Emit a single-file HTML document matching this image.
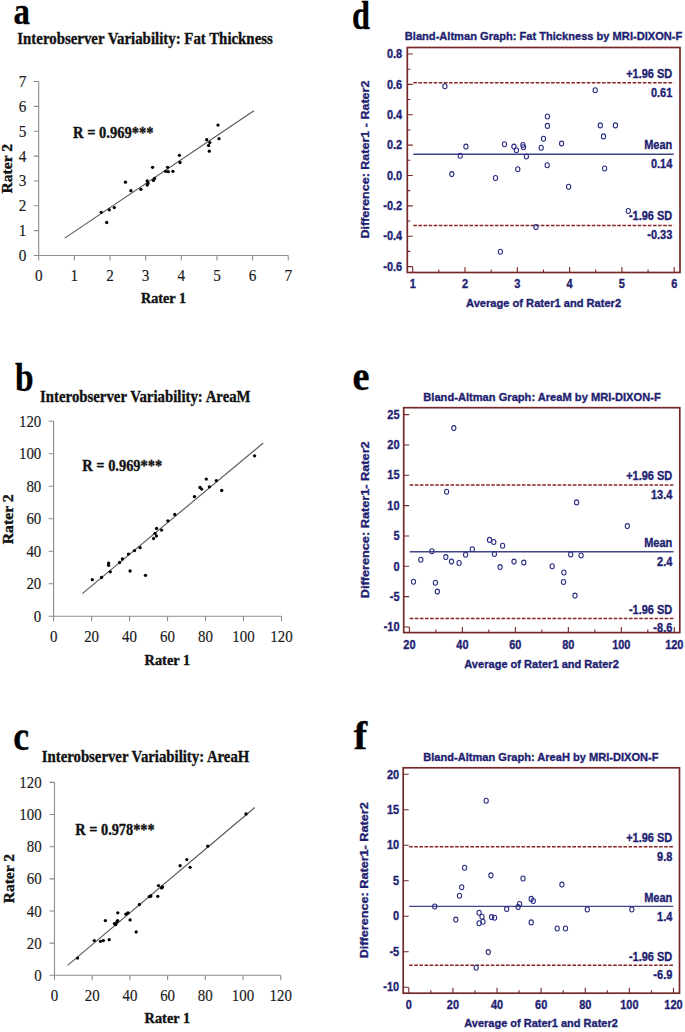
<!DOCTYPE html>
<html><head><meta charset="utf-8"><title>Figure</title>
<style>
html,body{margin:0;padding:0;background:#fff;}
body{width:685px;height:1032px;overflow:hidden;}
svg{display:block;}
</style></head>
<body>
<svg width="685" height="1032" viewBox="0 0 685 1032">
<rect width="685" height="1032" fill="#fff"/>
<path d="M38.70,81.55V255.50H288.25" fill="none" stroke="#8c8c8c" stroke-width="1.1"/>
<path d="M33.70,255.50H38.70M33.70,230.65H38.70M33.70,205.80H38.70M33.70,180.95H38.70M33.70,156.10H38.70M33.70,131.25H38.70M33.70,106.40H38.70M33.70,81.55H38.70M38.70,255.50V260.50M74.35,255.50V260.50M110.00,255.50V260.50M145.65,255.50V260.50M181.30,255.50V260.50M216.95,255.50V260.50M252.60,255.50V260.50M288.25,255.50V260.50" fill="none" stroke="#8c8c8c" stroke-width="1.1"/>
<g transform="translate(26.40 261.00) scale(0.93 1)">
<text x="0.00" y="0.00" font-size="16.4" font-family='"Liberation Serif", serif' font-weight="normal" text-anchor="end" fill="#1a1a1a" stroke="#1a1a1a" stroke-width="0.15" >0</text>
</g>
<g transform="translate(26.40 236.15) scale(0.93 1)">
<text x="0.00" y="0.00" font-size="16.4" font-family='"Liberation Serif", serif' font-weight="normal" text-anchor="end" fill="#1a1a1a" stroke="#1a1a1a" stroke-width="0.15" >1</text>
</g>
<g transform="translate(26.40 211.30) scale(0.93 1)">
<text x="0.00" y="0.00" font-size="16.4" font-family='"Liberation Serif", serif' font-weight="normal" text-anchor="end" fill="#1a1a1a" stroke="#1a1a1a" stroke-width="0.15" >2</text>
</g>
<g transform="translate(26.40 186.45) scale(0.93 1)">
<text x="0.00" y="0.00" font-size="16.4" font-family='"Liberation Serif", serif' font-weight="normal" text-anchor="end" fill="#1a1a1a" stroke="#1a1a1a" stroke-width="0.15" >3</text>
</g>
<g transform="translate(26.40 161.60) scale(0.93 1)">
<text x="0.00" y="0.00" font-size="16.4" font-family='"Liberation Serif", serif' font-weight="normal" text-anchor="end" fill="#1a1a1a" stroke="#1a1a1a" stroke-width="0.15" >4</text>
</g>
<g transform="translate(26.40 136.75) scale(0.93 1)">
<text x="0.00" y="0.00" font-size="16.4" font-family='"Liberation Serif", serif' font-weight="normal" text-anchor="end" fill="#1a1a1a" stroke="#1a1a1a" stroke-width="0.15" >5</text>
</g>
<g transform="translate(26.40 111.90) scale(0.93 1)">
<text x="0.00" y="0.00" font-size="16.4" font-family='"Liberation Serif", serif' font-weight="normal" text-anchor="end" fill="#1a1a1a" stroke="#1a1a1a" stroke-width="0.15" >6</text>
</g>
<g transform="translate(26.40 87.05) scale(0.93 1)">
<text x="0.00" y="0.00" font-size="16.4" font-family='"Liberation Serif", serif' font-weight="normal" text-anchor="end" fill="#1a1a1a" stroke="#1a1a1a" stroke-width="0.15" >7</text>
</g>
<g transform="translate(38.70 280.90) scale(0.93 1)">
<text x="0.00" y="0.00" font-size="16.4" font-family='"Liberation Serif", serif' font-weight="normal" text-anchor="middle" fill="#1a1a1a" stroke="#1a1a1a" stroke-width="0.15" >0</text>
</g>
<g transform="translate(74.35 280.90) scale(0.93 1)">
<text x="0.00" y="0.00" font-size="16.4" font-family='"Liberation Serif", serif' font-weight="normal" text-anchor="middle" fill="#1a1a1a" stroke="#1a1a1a" stroke-width="0.15" >1</text>
</g>
<g transform="translate(110.00 280.90) scale(0.93 1)">
<text x="0.00" y="0.00" font-size="16.4" font-family='"Liberation Serif", serif' font-weight="normal" text-anchor="middle" fill="#1a1a1a" stroke="#1a1a1a" stroke-width="0.15" >2</text>
</g>
<g transform="translate(145.65 280.90) scale(0.93 1)">
<text x="0.00" y="0.00" font-size="16.4" font-family='"Liberation Serif", serif' font-weight="normal" text-anchor="middle" fill="#1a1a1a" stroke="#1a1a1a" stroke-width="0.15" >3</text>
</g>
<g transform="translate(181.30 280.90) scale(0.93 1)">
<text x="0.00" y="0.00" font-size="16.4" font-family='"Liberation Serif", serif' font-weight="normal" text-anchor="middle" fill="#1a1a1a" stroke="#1a1a1a" stroke-width="0.15" >4</text>
</g>
<g transform="translate(216.95 280.90) scale(0.93 1)">
<text x="0.00" y="0.00" font-size="16.4" font-family='"Liberation Serif", serif' font-weight="normal" text-anchor="middle" fill="#1a1a1a" stroke="#1a1a1a" stroke-width="0.15" >5</text>
</g>
<g transform="translate(252.60 280.90) scale(0.93 1)">
<text x="0.00" y="0.00" font-size="16.4" font-family='"Liberation Serif", serif' font-weight="normal" text-anchor="middle" fill="#1a1a1a" stroke="#1a1a1a" stroke-width="0.15" >6</text>
</g>
<g transform="translate(288.25 280.90) scale(0.93 1)">
<text x="0.00" y="0.00" font-size="16.4" font-family='"Liberation Serif", serif' font-weight="normal" text-anchor="middle" fill="#1a1a1a" stroke="#1a1a1a" stroke-width="0.15" >7</text>
</g>
<line x1="64.7" y1="238.1" x2="253.9" y2="110.8" stroke="#555" stroke-width="1.1"/>
<circle cx="101.3" cy="212.3" r="1.65" fill="#000"/>
<circle cx="106.7" cy="222.5" r="1.65" fill="#000"/>
<circle cx="109.3" cy="209.8" r="1.65" fill="#000"/>
<circle cx="114.3" cy="207.6" r="1.65" fill="#000"/>
<circle cx="125.4" cy="182.2" r="1.65" fill="#000"/>
<circle cx="130.9" cy="190.7" r="1.65" fill="#000"/>
<circle cx="140.9" cy="189.3" r="1.65" fill="#000"/>
<circle cx="147.2" cy="180.9" r="1.65" fill="#000"/>
<circle cx="148.0" cy="183.4" r="1.65" fill="#000"/>
<circle cx="147.2" cy="185.1" r="1.65" fill="#000"/>
<circle cx="152.6" cy="167.3" r="1.65" fill="#000"/>
<circle cx="153.4" cy="180.4" r="1.65" fill="#000"/>
<circle cx="154.6" cy="178.4" r="1.65" fill="#000"/>
<circle cx="165.6" cy="171.3" r="1.65" fill="#000"/>
<circle cx="167.6" cy="167.3" r="1.65" fill="#000"/>
<circle cx="168.3" cy="171.7" r="1.65" fill="#000"/>
<circle cx="172.9" cy="171.3" r="1.65" fill="#000"/>
<circle cx="179.4" cy="155.3" r="1.65" fill="#000"/>
<circle cx="180.0" cy="162.5" r="1.65" fill="#000"/>
<circle cx="206.7" cy="139.7" r="1.65" fill="#000"/>
<circle cx="209.8" cy="142.6" r="1.65" fill="#000"/>
<circle cx="208.6" cy="145.5" r="1.65" fill="#000"/>
<circle cx="209.3" cy="151.2" r="1.65" fill="#000"/>
<circle cx="218.0" cy="125.1" r="1.65" fill="#000"/>
<circle cx="219.0" cy="138.7" r="1.65" fill="#000"/>
<text x="13.60" y="24.40" font-size="38" font-family='"Liberation Serif", serif' font-weight="bold" text-anchor="start" fill="#000" stroke="#000" stroke-width="0.35" textLength="16.40" lengthAdjust="spacingAndGlyphs" >a</text>
<text x="17.30" y="43.90" font-size="17.5" font-family='"Liberation Serif", serif' font-weight="bold" text-anchor="start" fill="#111" stroke="#111" stroke-width="0.35" textLength="255.50" lengthAdjust="spacingAndGlyphs" >Interobserver Variability: Fat Thickness</text>
<text x="73.10" y="138.40" font-size="16.5" font-family='"Liberation Serif", serif' font-weight="bold" text-anchor="start" fill="#111" stroke="#111" stroke-width="0.35" textLength="80.30" lengthAdjust="spacingAndGlyphs" >R = 0.969***</text>
<text x="141.00" y="303.00" font-size="14.5" font-family='"Liberation Serif", serif' font-weight="bold" text-anchor="start" fill="#111" stroke="#111" stroke-width="0.35" textLength="45.00" lengthAdjust="spacingAndGlyphs" >Rater 1</text>
<text x="12.20" y="193.50" font-size="14" font-family='"Liberation Serif", serif' font-weight="bold" text-anchor="start" fill="#111" stroke="#111" stroke-width="0.35" textLength="49.60" lengthAdjust="spacingAndGlyphs" transform="rotate(-90 12.20 193.50)" >Rater 2</text>
<path d="M53.60,421.18V616.30H281.48" fill="none" stroke="#8c8c8c" stroke-width="1.1"/>
<path d="M48.60,616.30H53.60M48.60,583.78H53.60M48.60,551.26H53.60M48.60,518.74H53.60M48.60,486.22H53.60M48.60,453.70H53.60M48.60,421.18H53.60M53.60,616.30V621.30M91.58,616.30V621.30M129.56,616.30V621.30M167.54,616.30V621.30M205.52,616.30V621.30M243.50,616.30V621.30M281.48,616.30V621.30" fill="none" stroke="#8c8c8c" stroke-width="1.1"/>
<g transform="translate(41.30 621.80) scale(0.91 1)">
<text x="0.00" y="0.00" font-size="16.4" font-family='"Liberation Serif", serif' font-weight="normal" text-anchor="end" fill="#1a1a1a" stroke="#1a1a1a" stroke-width="0.15" >0</text>
</g>
<g transform="translate(41.30 589.28) scale(0.91 1)">
<text x="0.00" y="0.00" font-size="16.4" font-family='"Liberation Serif", serif' font-weight="normal" text-anchor="end" fill="#1a1a1a" stroke="#1a1a1a" stroke-width="0.15" >20</text>
</g>
<g transform="translate(41.30 556.76) scale(0.91 1)">
<text x="0.00" y="0.00" font-size="16.4" font-family='"Liberation Serif", serif' font-weight="normal" text-anchor="end" fill="#1a1a1a" stroke="#1a1a1a" stroke-width="0.15" >40</text>
</g>
<g transform="translate(41.30 524.24) scale(0.91 1)">
<text x="0.00" y="0.00" font-size="16.4" font-family='"Liberation Serif", serif' font-weight="normal" text-anchor="end" fill="#1a1a1a" stroke="#1a1a1a" stroke-width="0.15" >60</text>
</g>
<g transform="translate(41.30 491.72) scale(0.91 1)">
<text x="0.00" y="0.00" font-size="16.4" font-family='"Liberation Serif", serif' font-weight="normal" text-anchor="end" fill="#1a1a1a" stroke="#1a1a1a" stroke-width="0.15" >80</text>
</g>
<g transform="translate(41.30 459.20) scale(0.91 1)">
<text x="0.00" y="0.00" font-size="16.4" font-family='"Liberation Serif", serif' font-weight="normal" text-anchor="end" fill="#1a1a1a" stroke="#1a1a1a" stroke-width="0.15" >100</text>
</g>
<g transform="translate(41.30 426.68) scale(0.91 1)">
<text x="0.00" y="0.00" font-size="16.4" font-family='"Liberation Serif", serif' font-weight="normal" text-anchor="end" fill="#1a1a1a" stroke="#1a1a1a" stroke-width="0.15" >120</text>
</g>
<g transform="translate(53.60 641.60) scale(0.91 1)">
<text x="0.00" y="0.00" font-size="16.4" font-family='"Liberation Serif", serif' font-weight="normal" text-anchor="middle" fill="#1a1a1a" stroke="#1a1a1a" stroke-width="0.15" >0</text>
</g>
<g transform="translate(91.58 641.60) scale(0.91 1)">
<text x="0.00" y="0.00" font-size="16.4" font-family='"Liberation Serif", serif' font-weight="normal" text-anchor="middle" fill="#1a1a1a" stroke="#1a1a1a" stroke-width="0.15" >20</text>
</g>
<g transform="translate(129.56 641.60) scale(0.91 1)">
<text x="0.00" y="0.00" font-size="16.4" font-family='"Liberation Serif", serif' font-weight="normal" text-anchor="middle" fill="#1a1a1a" stroke="#1a1a1a" stroke-width="0.15" >40</text>
</g>
<g transform="translate(167.54 641.60) scale(0.91 1)">
<text x="0.00" y="0.00" font-size="16.4" font-family='"Liberation Serif", serif' font-weight="normal" text-anchor="middle" fill="#1a1a1a" stroke="#1a1a1a" stroke-width="0.15" >60</text>
</g>
<g transform="translate(205.52 641.60) scale(0.91 1)">
<text x="0.00" y="0.00" font-size="16.4" font-family='"Liberation Serif", serif' font-weight="normal" text-anchor="middle" fill="#1a1a1a" stroke="#1a1a1a" stroke-width="0.15" >80</text>
</g>
<g transform="translate(243.50 641.60) scale(0.91 1)">
<text x="0.00" y="0.00" font-size="16.4" font-family='"Liberation Serif", serif' font-weight="normal" text-anchor="middle" fill="#1a1a1a" stroke="#1a1a1a" stroke-width="0.15" >100</text>
</g>
<g transform="translate(281.48 641.60) scale(0.91 1)">
<text x="0.00" y="0.00" font-size="16.4" font-family='"Liberation Serif", serif' font-weight="normal" text-anchor="middle" fill="#1a1a1a" stroke="#1a1a1a" stroke-width="0.15" >120</text>
</g>
<line x1="82.3" y1="593.7" x2="263.2" y2="443.0" stroke="#555" stroke-width="1.1"/>
<circle cx="92.3" cy="579.7" r="1.65" fill="#000"/>
<circle cx="101.5" cy="577.4" r="1.65" fill="#000"/>
<circle cx="108.6" cy="563.1" r="1.65" fill="#000"/>
<circle cx="108.6" cy="565.3" r="1.65" fill="#000"/>
<circle cx="110.3" cy="571.8" r="1.65" fill="#000"/>
<circle cx="119.6" cy="562.5" r="1.65" fill="#000"/>
<circle cx="122.4" cy="559.0" r="1.65" fill="#000"/>
<circle cx="128.4" cy="554.1" r="1.65" fill="#000"/>
<circle cx="130.1" cy="571.0" r="1.65" fill="#000"/>
<circle cx="134.5" cy="550.6" r="1.65" fill="#000"/>
<circle cx="140.1" cy="547.7" r="1.65" fill="#000"/>
<circle cx="145.5" cy="575.3" r="1.65" fill="#000"/>
<circle cx="153.6" cy="538.5" r="1.65" fill="#000"/>
<circle cx="155.0" cy="533.3" r="1.65" fill="#000"/>
<circle cx="156.4" cy="535.9" r="1.65" fill="#000"/>
<circle cx="156.6" cy="528.4" r="1.65" fill="#000"/>
<circle cx="161.6" cy="530.1" r="1.65" fill="#000"/>
<circle cx="167.9" cy="520.8" r="1.65" fill="#000"/>
<circle cx="174.8" cy="514.5" r="1.65" fill="#000"/>
<circle cx="194.5" cy="496.6" r="1.65" fill="#000"/>
<circle cx="200.0" cy="487.5" r="1.65" fill="#000"/>
<circle cx="201.7" cy="489.1" r="1.65" fill="#000"/>
<circle cx="206.3" cy="479.1" r="1.65" fill="#000"/>
<circle cx="209.4" cy="486.8" r="1.65" fill="#000"/>
<circle cx="216.3" cy="480.6" r="1.65" fill="#000"/>
<circle cx="221.7" cy="490.5" r="1.65" fill="#000"/>
<circle cx="254.6" cy="455.8" r="1.65" fill="#000"/>
<text x="15.00" y="391.00" font-size="40" font-family='"Liberation Serif", serif' font-weight="bold" text-anchor="start" fill="#000" stroke="#000" stroke-width="0.35" textLength="18.60" lengthAdjust="spacingAndGlyphs" >b</text>
<text x="40.10" y="401.70" font-size="17.5" font-family='"Liberation Serif", serif' font-weight="bold" text-anchor="start" fill="#111" stroke="#111" stroke-width="0.35" textLength="210.50" lengthAdjust="spacingAndGlyphs" >Interobserver Variability: AreaM</text>
<text x="82.30" y="470.50" font-size="16.5" font-family='"Liberation Serif", serif' font-weight="bold" text-anchor="start" fill="#111" stroke="#111" stroke-width="0.35" textLength="79.90" lengthAdjust="spacingAndGlyphs" >R = 0.969***</text>
<text x="144.60" y="665.00" font-size="14.5" font-family='"Liberation Serif", serif' font-weight="bold" text-anchor="start" fill="#111" stroke="#111" stroke-width="0.35" textLength="45.50" lengthAdjust="spacingAndGlyphs" >Rater 1</text>
<text x="12.80" y="544.30" font-size="14" font-family='"Liberation Serif", serif' font-weight="bold" text-anchor="start" fill="#111" stroke="#111" stroke-width="0.35" textLength="50.00" lengthAdjust="spacingAndGlyphs" transform="rotate(-90 12.80 544.30)" >Rater 2</text>
<path d="M54.50,782.40V975.30H280.70" fill="none" stroke="#8c8c8c" stroke-width="1.1"/>
<path d="M49.50,975.30H54.50M49.50,943.15H54.50M49.50,911.00H54.50M49.50,878.85H54.50M49.50,846.70H54.50M49.50,814.55H54.50M49.50,782.40H54.50M54.50,975.30V980.30M92.20,975.30V980.30M129.90,975.30V980.30M167.60,975.30V980.30M205.30,975.30V980.30M243.00,975.30V980.30M280.70,975.30V980.30" fill="none" stroke="#8c8c8c" stroke-width="1.1"/>
<g transform="translate(41.70 980.80) scale(0.91 1)">
<text x="0.00" y="0.00" font-size="16.4" font-family='"Liberation Serif", serif' font-weight="normal" text-anchor="end" fill="#1a1a1a" stroke="#1a1a1a" stroke-width="0.15" >0</text>
</g>
<g transform="translate(41.70 948.65) scale(0.91 1)">
<text x="0.00" y="0.00" font-size="16.4" font-family='"Liberation Serif", serif' font-weight="normal" text-anchor="end" fill="#1a1a1a" stroke="#1a1a1a" stroke-width="0.15" >20</text>
</g>
<g transform="translate(41.70 916.50) scale(0.91 1)">
<text x="0.00" y="0.00" font-size="16.4" font-family='"Liberation Serif", serif' font-weight="normal" text-anchor="end" fill="#1a1a1a" stroke="#1a1a1a" stroke-width="0.15" >40</text>
</g>
<g transform="translate(41.70 884.35) scale(0.91 1)">
<text x="0.00" y="0.00" font-size="16.4" font-family='"Liberation Serif", serif' font-weight="normal" text-anchor="end" fill="#1a1a1a" stroke="#1a1a1a" stroke-width="0.15" >60</text>
</g>
<g transform="translate(41.70 852.20) scale(0.91 1)">
<text x="0.00" y="0.00" font-size="16.4" font-family='"Liberation Serif", serif' font-weight="normal" text-anchor="end" fill="#1a1a1a" stroke="#1a1a1a" stroke-width="0.15" >80</text>
</g>
<g transform="translate(41.70 820.05) scale(0.91 1)">
<text x="0.00" y="0.00" font-size="16.4" font-family='"Liberation Serif", serif' font-weight="normal" text-anchor="end" fill="#1a1a1a" stroke="#1a1a1a" stroke-width="0.15" >100</text>
</g>
<g transform="translate(41.70 787.90) scale(0.91 1)">
<text x="0.00" y="0.00" font-size="16.4" font-family='"Liberation Serif", serif' font-weight="normal" text-anchor="end" fill="#1a1a1a" stroke="#1a1a1a" stroke-width="0.15" >120</text>
</g>
<g transform="translate(54.50 1000.90) scale(0.91 1)">
<text x="0.00" y="0.00" font-size="16.4" font-family='"Liberation Serif", serif' font-weight="normal" text-anchor="middle" fill="#1a1a1a" stroke="#1a1a1a" stroke-width="0.15" >0</text>
</g>
<g transform="translate(92.20 1000.90) scale(0.91 1)">
<text x="0.00" y="0.00" font-size="16.4" font-family='"Liberation Serif", serif' font-weight="normal" text-anchor="middle" fill="#1a1a1a" stroke="#1a1a1a" stroke-width="0.15" >20</text>
</g>
<g transform="translate(129.90 1000.90) scale(0.91 1)">
<text x="0.00" y="0.00" font-size="16.4" font-family='"Liberation Serif", serif' font-weight="normal" text-anchor="middle" fill="#1a1a1a" stroke="#1a1a1a" stroke-width="0.15" >40</text>
</g>
<g transform="translate(167.60 1000.90) scale(0.91 1)">
<text x="0.00" y="0.00" font-size="16.4" font-family='"Liberation Serif", serif' font-weight="normal" text-anchor="middle" fill="#1a1a1a" stroke="#1a1a1a" stroke-width="0.15" >60</text>
</g>
<g transform="translate(205.30 1000.90) scale(0.91 1)">
<text x="0.00" y="0.00" font-size="16.4" font-family='"Liberation Serif", serif' font-weight="normal" text-anchor="middle" fill="#1a1a1a" stroke="#1a1a1a" stroke-width="0.15" >80</text>
</g>
<g transform="translate(243.00 1000.90) scale(0.91 1)">
<text x="0.00" y="0.00" font-size="16.4" font-family='"Liberation Serif", serif' font-weight="normal" text-anchor="middle" fill="#1a1a1a" stroke="#1a1a1a" stroke-width="0.15" >100</text>
</g>
<g transform="translate(280.70 1000.90) scale(0.91 1)">
<text x="0.00" y="0.00" font-size="16.4" font-family='"Liberation Serif", serif' font-weight="normal" text-anchor="middle" fill="#1a1a1a" stroke="#1a1a1a" stroke-width="0.15" >120</text>
</g>
<line x1="67.6" y1="965.4" x2="254.8" y2="807.5" stroke="#555" stroke-width="1.1"/>
<circle cx="77.5" cy="958.1" r="1.65" fill="#000"/>
<circle cx="94.3" cy="940.6" r="1.65" fill="#000"/>
<circle cx="100.5" cy="941.3" r="1.65" fill="#000"/>
<circle cx="103.4" cy="940.6" r="1.65" fill="#000"/>
<circle cx="109.2" cy="939.7" r="1.65" fill="#000"/>
<circle cx="105.4" cy="920.6" r="1.65" fill="#000"/>
<circle cx="114.5" cy="923.6" r="1.65" fill="#000"/>
<circle cx="115.7" cy="924.5" r="1.65" fill="#000"/>
<circle cx="116.9" cy="922.0" r="1.65" fill="#000"/>
<circle cx="117.6" cy="920.6" r="1.65" fill="#000"/>
<circle cx="117.8" cy="912.8" r="1.65" fill="#000"/>
<circle cx="125.9" cy="914.2" r="1.65" fill="#000"/>
<circle cx="128.0" cy="912.9" r="1.65" fill="#000"/>
<circle cx="130.1" cy="919.9" r="1.65" fill="#000"/>
<circle cx="136.2" cy="931.9" r="1.65" fill="#000"/>
<circle cx="139.4" cy="904.5" r="1.65" fill="#000"/>
<circle cx="149.3" cy="896.6" r="1.65" fill="#000"/>
<circle cx="150.4" cy="896.1" r="1.65" fill="#000"/>
<circle cx="157.8" cy="896.3" r="1.65" fill="#000"/>
<circle cx="158.5" cy="885.6" r="1.65" fill="#000"/>
<circle cx="161.6" cy="887.9" r="1.65" fill="#000"/>
<circle cx="162.5" cy="887.0" r="1.65" fill="#000"/>
<circle cx="150.9" cy="896.0" r="1.65" fill="#000"/>
<circle cx="246.0" cy="814.0" r="1.65" fill="#000"/>
<circle cx="207.8" cy="846.2" r="1.65" fill="#000"/>
<circle cx="186.8" cy="859.6" r="1.65" fill="#000"/>
<circle cx="180.1" cy="865.7" r="1.65" fill="#000"/>
<circle cx="190.1" cy="867.3" r="1.65" fill="#000"/>
<text x="13.20" y="750.00" font-size="40" font-family='"Liberation Serif", serif' font-weight="bold" text-anchor="start" fill="#000" stroke="#000" stroke-width="0.35" textLength="15.80" lengthAdjust="spacingAndGlyphs" >c</text>
<text x="41.80" y="761.90" font-size="17.5" font-family='"Liberation Serif", serif' font-weight="bold" text-anchor="start" fill="#111" stroke="#111" stroke-width="0.35" textLength="207.50" lengthAdjust="spacingAndGlyphs" >Interobserver Variability: AreaH</text>
<text x="75.30" y="834.60" font-size="16.5" font-family='"Liberation Serif", serif' font-weight="bold" text-anchor="start" fill="#111" stroke="#111" stroke-width="0.35" textLength="79.40" lengthAdjust="spacingAndGlyphs" >R = 0.978***</text>
<text x="144.60" y="1023.00" font-size="14.5" font-family='"Liberation Serif", serif' font-weight="bold" text-anchor="start" fill="#111" stroke="#111" stroke-width="0.35" textLength="45.50" lengthAdjust="spacingAndGlyphs" >Rater 1</text>
<text x="13.80" y="903.30" font-size="14" font-family='"Liberation Serif", serif' font-weight="bold" text-anchor="start" fill="#111" stroke="#111" stroke-width="0.35" textLength="49.30" lengthAdjust="spacingAndGlyphs" transform="rotate(-90 13.80 903.30)" >Rater 2</text>
<path d="M407.30,54.00H412.80M407.30,69.19H410.30M407.30,84.37H412.80M407.30,99.56H410.30M407.30,114.74H412.80M407.30,129.93H410.30M407.30,145.11H412.80M407.30,160.30H410.30M407.30,175.49H412.80M407.30,190.67H410.30M407.30,205.86H412.80M407.30,221.04H410.30M407.30,236.23H412.80M407.30,251.41H410.30M407.30,266.60H412.80M412.70,272.50V267.00M438.85,272.50V269.50M465.00,272.50V267.00M491.15,272.50V269.50M517.30,272.50V267.00M543.45,272.50V269.50M569.60,272.50V267.00M595.75,272.50V269.50M621.90,272.50V267.00M648.05,272.50V269.50M674.20,272.50V267.00" fill="none" stroke="#742828" stroke-width="1.1"/>
<rect x="407.30" y="47.50" width="272.70" height="225.00" fill="none" stroke="#742828" stroke-width="1.7"/>
<line x1="413.30" y1="82.85" x2="673.70" y2="82.85" stroke="#8a2323" stroke-width="1.5" stroke-dasharray="3.6 1.5"/>
<line x1="413.30" y1="225.60" x2="673.70" y2="225.60" stroke="#8a2323" stroke-width="1.5" stroke-dasharray="3.6 1.5"/>
<line x1="413.30" y1="154.23" x2="673.70" y2="154.23" stroke="#3f458b" stroke-width="1.35"/>
<ellipse cx="444.9" cy="86.3" rx="2.1" ry="2.5" fill="none" stroke="#282d82" stroke-width="1.1"/>
<ellipse cx="451.8" cy="174.1" rx="2.1" ry="2.5" fill="none" stroke="#282d82" stroke-width="1.1"/>
<ellipse cx="460.2" cy="155.7" rx="2.1" ry="2.5" fill="none" stroke="#282d82" stroke-width="1.1"/>
<ellipse cx="465.9" cy="146.6" rx="2.1" ry="2.5" fill="none" stroke="#282d82" stroke-width="1.1"/>
<ellipse cx="495.5" cy="178.0" rx="2.1" ry="2.5" fill="none" stroke="#282d82" stroke-width="1.1"/>
<ellipse cx="500.4" cy="251.8" rx="2.1" ry="2.5" fill="none" stroke="#282d82" stroke-width="1.1"/>
<ellipse cx="504.5" cy="144.2" rx="2.1" ry="2.5" fill="none" stroke="#282d82" stroke-width="1.1"/>
<ellipse cx="513.9" cy="146.6" rx="2.1" ry="2.5" fill="none" stroke="#282d82" stroke-width="1.1"/>
<ellipse cx="516.4" cy="150.3" rx="2.1" ry="2.5" fill="none" stroke="#282d82" stroke-width="1.1"/>
<ellipse cx="517.8" cy="169.2" rx="2.1" ry="2.5" fill="none" stroke="#282d82" stroke-width="1.1"/>
<ellipse cx="522.9" cy="145.0" rx="2.1" ry="2.5" fill="none" stroke="#282d82" stroke-width="1.1"/>
<ellipse cx="523.5" cy="147.3" rx="2.1" ry="2.5" fill="none" stroke="#282d82" stroke-width="1.1"/>
<ellipse cx="526.4" cy="156.5" rx="2.1" ry="2.5" fill="none" stroke="#282d82" stroke-width="1.1"/>
<ellipse cx="536.0" cy="227.1" rx="2.1" ry="2.5" fill="none" stroke="#282d82" stroke-width="1.1"/>
<ellipse cx="541.2" cy="147.7" rx="2.1" ry="2.5" fill="none" stroke="#282d82" stroke-width="1.1"/>
<ellipse cx="543.5" cy="138.7" rx="2.1" ry="2.5" fill="none" stroke="#282d82" stroke-width="1.1"/>
<ellipse cx="547.4" cy="116.5" rx="2.1" ry="2.5" fill="none" stroke="#282d82" stroke-width="1.1"/>
<ellipse cx="547.4" cy="125.9" rx="2.1" ry="2.5" fill="none" stroke="#282d82" stroke-width="1.1"/>
<ellipse cx="547.2" cy="165.2" rx="2.1" ry="2.5" fill="none" stroke="#282d82" stroke-width="1.1"/>
<ellipse cx="561.6" cy="143.6" rx="2.1" ry="2.5" fill="none" stroke="#282d82" stroke-width="1.1"/>
<ellipse cx="568.6" cy="186.7" rx="2.1" ry="2.5" fill="none" stroke="#282d82" stroke-width="1.1"/>
<ellipse cx="595.2" cy="90.2" rx="2.1" ry="2.5" fill="none" stroke="#282d82" stroke-width="1.1"/>
<ellipse cx="600.3" cy="125.4" rx="2.1" ry="2.5" fill="none" stroke="#282d82" stroke-width="1.1"/>
<ellipse cx="603.5" cy="136.4" rx="2.1" ry="2.5" fill="none" stroke="#282d82" stroke-width="1.1"/>
<ellipse cx="604.6" cy="168.5" rx="2.1" ry="2.5" fill="none" stroke="#282d82" stroke-width="1.1"/>
<ellipse cx="615.4" cy="125.4" rx="2.1" ry="2.5" fill="none" stroke="#282d82" stroke-width="1.1"/>
<ellipse cx="628.3" cy="211.0" rx="2.1" ry="2.5" fill="none" stroke="#282d82" stroke-width="1.1"/>
<g transform="translate(402.20 58.20) scale(0.88 1)">
<text x="0.00" y="0.00" font-size="12.5" font-family='"Liberation Sans", sans-serif' font-weight="bold" text-anchor="end" fill="#1f1f72" stroke="#1f1f72" stroke-width="0.35" >0.8</text>
</g>
<g transform="translate(402.20 88.57) scale(0.88 1)">
<text x="0.00" y="0.00" font-size="12.5" font-family='"Liberation Sans", sans-serif' font-weight="bold" text-anchor="end" fill="#1f1f72" stroke="#1f1f72" stroke-width="0.35" >0.6</text>
</g>
<g transform="translate(402.20 118.94) scale(0.88 1)">
<text x="0.00" y="0.00" font-size="12.5" font-family='"Liberation Sans", sans-serif' font-weight="bold" text-anchor="end" fill="#1f1f72" stroke="#1f1f72" stroke-width="0.35" >0.4</text>
</g>
<g transform="translate(402.20 149.31) scale(0.88 1)">
<text x="0.00" y="0.00" font-size="12.5" font-family='"Liberation Sans", sans-serif' font-weight="bold" text-anchor="end" fill="#1f1f72" stroke="#1f1f72" stroke-width="0.35" >0.2</text>
</g>
<g transform="translate(402.20 179.69) scale(0.88 1)">
<text x="0.00" y="0.00" font-size="12.5" font-family='"Liberation Sans", sans-serif' font-weight="bold" text-anchor="end" fill="#1f1f72" stroke="#1f1f72" stroke-width="0.35" >0.0</text>
</g>
<g transform="translate(402.20 210.06) scale(0.88 1)">
<text x="0.00" y="0.00" font-size="12.5" font-family='"Liberation Sans", sans-serif' font-weight="bold" text-anchor="end" fill="#1f1f72" stroke="#1f1f72" stroke-width="0.35" >-0.2</text>
</g>
<g transform="translate(402.20 240.43) scale(0.88 1)">
<text x="0.00" y="0.00" font-size="12.5" font-family='"Liberation Sans", sans-serif' font-weight="bold" text-anchor="end" fill="#1f1f72" stroke="#1f1f72" stroke-width="0.35" >-0.4</text>
</g>
<g transform="translate(402.20 270.80) scale(0.88 1)">
<text x="0.00" y="0.00" font-size="12.5" font-family='"Liberation Sans", sans-serif' font-weight="bold" text-anchor="end" fill="#1f1f72" stroke="#1f1f72" stroke-width="0.35" >-0.6</text>
</g>
<g transform="translate(412.70 288.20) scale(0.9 1)">
<text x="0.00" y="0.00" font-size="12.2" font-family='"Liberation Sans", sans-serif' font-weight="bold" text-anchor="middle" fill="#1f1f72" stroke="#1f1f72" stroke-width="0.35" >1</text>
</g>
<g transform="translate(465.00 288.20) scale(0.9 1)">
<text x="0.00" y="0.00" font-size="12.2" font-family='"Liberation Sans", sans-serif' font-weight="bold" text-anchor="middle" fill="#1f1f72" stroke="#1f1f72" stroke-width="0.35" >2</text>
</g>
<g transform="translate(517.30 288.20) scale(0.9 1)">
<text x="0.00" y="0.00" font-size="12.2" font-family='"Liberation Sans", sans-serif' font-weight="bold" text-anchor="middle" fill="#1f1f72" stroke="#1f1f72" stroke-width="0.35" >3</text>
</g>
<g transform="translate(569.60 288.20) scale(0.9 1)">
<text x="0.00" y="0.00" font-size="12.2" font-family='"Liberation Sans", sans-serif' font-weight="bold" text-anchor="middle" fill="#1f1f72" stroke="#1f1f72" stroke-width="0.35" >4</text>
</g>
<g transform="translate(621.90 288.20) scale(0.9 1)">
<text x="0.00" y="0.00" font-size="12.2" font-family='"Liberation Sans", sans-serif' font-weight="bold" text-anchor="middle" fill="#1f1f72" stroke="#1f1f72" stroke-width="0.35" >5</text>
</g>
<g transform="translate(674.20 288.20) scale(0.9 1)">
<text x="0.00" y="0.00" font-size="12.2" font-family='"Liberation Sans", sans-serif' font-weight="bold" text-anchor="middle" fill="#1f1f72" stroke="#1f1f72" stroke-width="0.35" >6</text>
</g>
<g transform="translate(672.30 77.70) scale(0.88 1)">
<text x="0.00" y="0.00" font-size="12.5" font-family='"Liberation Sans", sans-serif' font-weight="bold" text-anchor="end" fill="#1f1f72" stroke="#1f1f72" stroke-width="0.35" >+1.96 SD</text>
</g>
<g transform="translate(672.30 96.90) scale(0.88 1)">
<text x="0.00" y="0.00" font-size="12.5" font-family='"Liberation Sans", sans-serif' font-weight="bold" text-anchor="end" fill="#1f1f72" stroke="#1f1f72" stroke-width="0.35" >0.61</text>
</g>
<g transform="translate(672.30 149.10) scale(0.88 1)">
<text x="0.00" y="0.00" font-size="12.5" font-family='"Liberation Sans", sans-serif' font-weight="bold" text-anchor="end" fill="#1f1f72" stroke="#1f1f72" stroke-width="0.35" >Mean</text>
</g>
<g transform="translate(672.30 168.30) scale(0.88 1)">
<text x="0.00" y="0.00" font-size="12.5" font-family='"Liberation Sans", sans-serif' font-weight="bold" text-anchor="end" fill="#1f1f72" stroke="#1f1f72" stroke-width="0.35" >0.14</text>
</g>
<g transform="translate(672.30 219.90) scale(0.88 1)">
<text x="0.00" y="0.00" font-size="12.5" font-family='"Liberation Sans", sans-serif' font-weight="bold" text-anchor="end" fill="#1f1f72" stroke="#1f1f72" stroke-width="0.35" >-1.96 SD</text>
</g>
<g transform="translate(672.30 238.90) scale(0.88 1)">
<text x="0.00" y="0.00" font-size="12.5" font-family='"Liberation Sans", sans-serif' font-weight="bold" text-anchor="end" fill="#1f1f72" stroke="#1f1f72" stroke-width="0.35" >-0.33</text>
</g>
<text x="404.80" y="40.10" font-size="11.5" font-family='"Liberation Sans", sans-serif' font-weight="bold" text-anchor="start" fill="#1f1f72" stroke="#1f1f72" stroke-width="0.35" textLength="277.50" lengthAdjust="spacingAndGlyphs" >Bland-Altman Graph: Fat Thickness by MRI-DIXON-F</text>
<text x="466.10" y="307.00" font-size="11" font-family='"Liberation Sans", sans-serif' font-weight="bold" text-anchor="start" fill="#1f1f72" stroke="#1f1f72" stroke-width="0.35" textLength="155.00" lengthAdjust="spacingAndGlyphs" >Average of Rater1 and Rater2</text>
<text x="369.20" y="238.60" font-size="11" font-family='"Liberation Sans", sans-serif' font-weight="bold" text-anchor="start" fill="#1f1f72" stroke="#1f1f72" stroke-width="0.35" textLength="158.00" lengthAdjust="spacingAndGlyphs" transform="rotate(-90 369.20 238.60)" >Difference: Rater1 - Rater2</text>
<text x="352.00" y="28.80" font-size="40" font-family='"Liberation Serif", serif' font-weight="bold" text-anchor="start" fill="#000" stroke="#000" stroke-width="0.35" textLength="18.00" lengthAdjust="spacingAndGlyphs" >d</text>
<path d="M403.70,414.60H409.20M403.70,444.94H409.20M403.70,475.29H409.20M403.70,505.63H409.20M403.70,535.97H409.20M403.70,566.31H409.20M403.70,596.66H409.20M403.70,627.00H409.20M409.40,632.60V627.10M435.89,632.60V629.60M462.38,632.60V627.10M488.87,632.60V629.60M515.36,632.60V627.10M541.85,632.60V629.60M568.34,632.60V627.10M594.83,632.60V629.60M621.32,632.60V627.10M647.81,632.60V629.60M674.30,632.60V627.10" fill="none" stroke="#742828" stroke-width="1.1"/>
<rect x="403.70" y="407.70" width="276.10" height="224.90" fill="none" stroke="#742828" stroke-width="1.7"/>
<line x1="409.70" y1="485.00" x2="673.50" y2="485.00" stroke="#8a2323" stroke-width="1.5" stroke-dasharray="3.6 1.5"/>
<line x1="409.70" y1="618.50" x2="673.50" y2="618.50" stroke="#8a2323" stroke-width="1.5" stroke-dasharray="3.6 1.5"/>
<line x1="409.70" y1="551.75" x2="673.50" y2="551.75" stroke="#3f458b" stroke-width="1.35"/>
<ellipse cx="413.5" cy="581.8" rx="2.1" ry="2.5" fill="none" stroke="#282d82" stroke-width="1.1"/>
<ellipse cx="420.8" cy="559.7" rx="2.1" ry="2.5" fill="none" stroke="#282d82" stroke-width="1.1"/>
<ellipse cx="431.9" cy="551.2" rx="2.1" ry="2.5" fill="none" stroke="#282d82" stroke-width="1.1"/>
<ellipse cx="435.4" cy="582.8" rx="2.1" ry="2.5" fill="none" stroke="#282d82" stroke-width="1.1"/>
<ellipse cx="437.4" cy="591.6" rx="2.1" ry="2.5" fill="none" stroke="#282d82" stroke-width="1.1"/>
<ellipse cx="445.8" cy="557.1" rx="2.1" ry="2.5" fill="none" stroke="#282d82" stroke-width="1.1"/>
<ellipse cx="446.6" cy="491.7" rx="2.1" ry="2.5" fill="none" stroke="#282d82" stroke-width="1.1"/>
<ellipse cx="451.5" cy="561.6" rx="2.1" ry="2.5" fill="none" stroke="#282d82" stroke-width="1.1"/>
<ellipse cx="453.8" cy="428.1" rx="2.1" ry="2.5" fill="none" stroke="#282d82" stroke-width="1.1"/>
<ellipse cx="459.1" cy="563.0" rx="2.1" ry="2.5" fill="none" stroke="#282d82" stroke-width="1.1"/>
<ellipse cx="465.6" cy="554.8" rx="2.1" ry="2.5" fill="none" stroke="#282d82" stroke-width="1.1"/>
<ellipse cx="472.3" cy="549.3" rx="2.1" ry="2.5" fill="none" stroke="#282d82" stroke-width="1.1"/>
<ellipse cx="489.5" cy="539.9" rx="2.1" ry="2.5" fill="none" stroke="#282d82" stroke-width="1.1"/>
<ellipse cx="493.8" cy="542.0" rx="2.1" ry="2.5" fill="none" stroke="#282d82" stroke-width="1.1"/>
<ellipse cx="494.4" cy="554.0" rx="2.1" ry="2.5" fill="none" stroke="#282d82" stroke-width="1.1"/>
<ellipse cx="500.1" cy="567.1" rx="2.1" ry="2.5" fill="none" stroke="#282d82" stroke-width="1.1"/>
<ellipse cx="502.6" cy="545.8" rx="2.1" ry="2.5" fill="none" stroke="#282d82" stroke-width="1.1"/>
<ellipse cx="514.0" cy="561.6" rx="2.1" ry="2.5" fill="none" stroke="#282d82" stroke-width="1.1"/>
<ellipse cx="523.8" cy="562.6" rx="2.1" ry="2.5" fill="none" stroke="#282d82" stroke-width="1.1"/>
<ellipse cx="552.2" cy="566.2" rx="2.1" ry="2.5" fill="none" stroke="#282d82" stroke-width="1.1"/>
<ellipse cx="563.5" cy="582.0" rx="2.1" ry="2.5" fill="none" stroke="#282d82" stroke-width="1.1"/>
<ellipse cx="563.9" cy="572.5" rx="2.1" ry="2.5" fill="none" stroke="#282d82" stroke-width="1.1"/>
<ellipse cx="570.7" cy="554.4" rx="2.1" ry="2.5" fill="none" stroke="#282d82" stroke-width="1.1"/>
<ellipse cx="575.0" cy="595.6" rx="2.1" ry="2.5" fill="none" stroke="#282d82" stroke-width="1.1"/>
<ellipse cx="576.6" cy="502.4" rx="2.1" ry="2.5" fill="none" stroke="#282d82" stroke-width="1.1"/>
<ellipse cx="581.1" cy="555.5" rx="2.1" ry="2.5" fill="none" stroke="#282d82" stroke-width="1.1"/>
<ellipse cx="627.3" cy="526.1" rx="2.1" ry="2.5" fill="none" stroke="#282d82" stroke-width="1.1"/>
<g transform="translate(399.60 418.80) scale(0.88 1)">
<text x="0.00" y="0.00" font-size="12.5" font-family='"Liberation Sans", sans-serif' font-weight="bold" text-anchor="end" fill="#1f1f72" stroke="#1f1f72" stroke-width="0.35" >25</text>
</g>
<g transform="translate(399.60 449.14) scale(0.88 1)">
<text x="0.00" y="0.00" font-size="12.5" font-family='"Liberation Sans", sans-serif' font-weight="bold" text-anchor="end" fill="#1f1f72" stroke="#1f1f72" stroke-width="0.35" >20</text>
</g>
<g transform="translate(399.60 479.49) scale(0.88 1)">
<text x="0.00" y="0.00" font-size="12.5" font-family='"Liberation Sans", sans-serif' font-weight="bold" text-anchor="end" fill="#1f1f72" stroke="#1f1f72" stroke-width="0.35" >15</text>
</g>
<g transform="translate(399.60 509.83) scale(0.88 1)">
<text x="0.00" y="0.00" font-size="12.5" font-family='"Liberation Sans", sans-serif' font-weight="bold" text-anchor="end" fill="#1f1f72" stroke="#1f1f72" stroke-width="0.35" >10</text>
</g>
<g transform="translate(399.60 540.17) scale(0.88 1)">
<text x="0.00" y="0.00" font-size="12.5" font-family='"Liberation Sans", sans-serif' font-weight="bold" text-anchor="end" fill="#1f1f72" stroke="#1f1f72" stroke-width="0.35" >5</text>
</g>
<g transform="translate(399.60 570.51) scale(0.88 1)">
<text x="0.00" y="0.00" font-size="12.5" font-family='"Liberation Sans", sans-serif' font-weight="bold" text-anchor="end" fill="#1f1f72" stroke="#1f1f72" stroke-width="0.35" >0</text>
</g>
<g transform="translate(399.60 600.86) scale(0.88 1)">
<text x="0.00" y="0.00" font-size="12.5" font-family='"Liberation Sans", sans-serif' font-weight="bold" text-anchor="end" fill="#1f1f72" stroke="#1f1f72" stroke-width="0.35" >-5</text>
</g>
<g transform="translate(399.60 631.20) scale(0.88 1)">
<text x="0.00" y="0.00" font-size="12.5" font-family='"Liberation Sans", sans-serif' font-weight="bold" text-anchor="end" fill="#1f1f72" stroke="#1f1f72" stroke-width="0.35" >-10</text>
</g>
<g transform="translate(409.40 649.40) scale(0.9 1)">
<text x="0.00" y="0.00" font-size="12.2" font-family='"Liberation Sans", sans-serif' font-weight="bold" text-anchor="middle" fill="#1f1f72" stroke="#1f1f72" stroke-width="0.35" >20</text>
</g>
<g transform="translate(462.38 649.40) scale(0.9 1)">
<text x="0.00" y="0.00" font-size="12.2" font-family='"Liberation Sans", sans-serif' font-weight="bold" text-anchor="middle" fill="#1f1f72" stroke="#1f1f72" stroke-width="0.35" >40</text>
</g>
<g transform="translate(515.36 649.40) scale(0.9 1)">
<text x="0.00" y="0.00" font-size="12.2" font-family='"Liberation Sans", sans-serif' font-weight="bold" text-anchor="middle" fill="#1f1f72" stroke="#1f1f72" stroke-width="0.35" >60</text>
</g>
<g transform="translate(568.34 649.40) scale(0.9 1)">
<text x="0.00" y="0.00" font-size="12.2" font-family='"Liberation Sans", sans-serif' font-weight="bold" text-anchor="middle" fill="#1f1f72" stroke="#1f1f72" stroke-width="0.35" >80</text>
</g>
<g transform="translate(621.32 649.40) scale(0.9 1)">
<text x="0.00" y="0.00" font-size="12.2" font-family='"Liberation Sans", sans-serif' font-weight="bold" text-anchor="middle" fill="#1f1f72" stroke="#1f1f72" stroke-width="0.35" >100</text>
</g>
<g transform="translate(674.30 649.40) scale(0.9 1)">
<text x="0.00" y="0.00" font-size="12.2" font-family='"Liberation Sans", sans-serif' font-weight="bold" text-anchor="middle" fill="#1f1f72" stroke="#1f1f72" stroke-width="0.35" >120</text>
</g>
<g transform="translate(672.30 480.00) scale(0.88 1)">
<text x="0.00" y="0.00" font-size="12.5" font-family='"Liberation Sans", sans-serif' font-weight="bold" text-anchor="end" fill="#1f1f72" stroke="#1f1f72" stroke-width="0.35" >+1.96 SD</text>
</g>
<g transform="translate(672.30 499.30) scale(0.88 1)">
<text x="0.00" y="0.00" font-size="12.5" font-family='"Liberation Sans", sans-serif' font-weight="bold" text-anchor="end" fill="#1f1f72" stroke="#1f1f72" stroke-width="0.35" >13.4</text>
</g>
<g transform="translate(672.30 546.90) scale(0.88 1)">
<text x="0.00" y="0.00" font-size="12.5" font-family='"Liberation Sans", sans-serif' font-weight="bold" text-anchor="end" fill="#1f1f72" stroke="#1f1f72" stroke-width="0.35" >Mean</text>
</g>
<g transform="translate(672.30 566.20) scale(0.88 1)">
<text x="0.00" y="0.00" font-size="12.5" font-family='"Liberation Sans", sans-serif' font-weight="bold" text-anchor="end" fill="#1f1f72" stroke="#1f1f72" stroke-width="0.35" >2.4</text>
</g>
<g transform="translate(672.30 613.70) scale(0.88 1)">
<text x="0.00" y="0.00" font-size="12.5" font-family='"Liberation Sans", sans-serif' font-weight="bold" text-anchor="end" fill="#1f1f72" stroke="#1f1f72" stroke-width="0.35" >-1.96 SD</text>
</g>
<g transform="translate(672.30 631.80) scale(0.88 1)">
<text x="0.00" y="0.00" font-size="12.5" font-family='"Liberation Sans", sans-serif' font-weight="bold" text-anchor="end" fill="#1f1f72" stroke="#1f1f72" stroke-width="0.35" >-8.6</text>
</g>
<text x="423.30" y="400.50" font-size="11.5" font-family='"Liberation Sans", sans-serif' font-weight="bold" text-anchor="start" fill="#1f1f72" stroke="#1f1f72" stroke-width="0.35" textLength="237.40" lengthAdjust="spacingAndGlyphs" >Bland-Altman Graph: AreaM by MRI-DIXON-F</text>
<text x="464.30" y="668.30" font-size="11" font-family='"Liberation Sans", sans-serif' font-weight="bold" text-anchor="start" fill="#1f1f72" stroke="#1f1f72" stroke-width="0.35" textLength="154.50" lengthAdjust="spacingAndGlyphs" >Average of Rater1 and Rater2</text>
<text x="369.40" y="598.30" font-size="11" font-family='"Liberation Sans", sans-serif' font-weight="bold" text-anchor="start" fill="#1f1f72" stroke="#1f1f72" stroke-width="0.35" textLength="157.00" lengthAdjust="spacingAndGlyphs" transform="rotate(-90 369.40 598.30)" >Difference: Rater1- Rater2</text>
<text x="352.40" y="390.00" font-size="40" font-family='"Liberation Serif", serif' font-weight="bold" text-anchor="start" fill="#000" stroke="#000" stroke-width="0.35" textLength="17.00" lengthAdjust="spacingAndGlyphs" >e</text>
<path d="M403.20,774.30H408.70M403.20,809.78H408.70M403.20,845.27H408.70M403.20,880.75H408.70M403.20,916.23H408.70M403.20,951.72H408.70M403.20,987.20H408.70M408.80,993.20V987.70M430.86,993.20V990.20M452.92,993.20V987.70M474.98,993.20V990.20M497.03,993.20V987.70M519.09,993.20V990.20M541.15,993.20V987.70M563.21,993.20V990.20M585.27,993.20V987.70M607.33,993.20V990.20M629.38,993.20V987.70M651.44,993.20V990.20M673.50,993.20V987.70" fill="none" stroke="#742828" stroke-width="1.1"/>
<rect x="403.20" y="767.80" width="276.30" height="225.40" fill="none" stroke="#742828" stroke-width="1.7"/>
<line x1="409.20" y1="846.69" x2="673.20" y2="846.69" stroke="#8a2323" stroke-width="1.5" stroke-dasharray="3.6 1.5"/>
<line x1="409.20" y1="965.20" x2="673.20" y2="965.20" stroke="#8a2323" stroke-width="1.5" stroke-dasharray="3.6 1.5"/>
<line x1="409.20" y1="906.30" x2="673.20" y2="906.30" stroke="#3f458b" stroke-width="1.35"/>
<ellipse cx="434.7" cy="906.5" rx="2.1" ry="2.5" fill="none" stroke="#282d82" stroke-width="1.1"/>
<ellipse cx="455.8" cy="919.6" rx="2.1" ry="2.5" fill="none" stroke="#282d82" stroke-width="1.1"/>
<ellipse cx="459.5" cy="895.7" rx="2.1" ry="2.5" fill="none" stroke="#282d82" stroke-width="1.1"/>
<ellipse cx="461.7" cy="887.3" rx="2.1" ry="2.5" fill="none" stroke="#282d82" stroke-width="1.1"/>
<ellipse cx="464.6" cy="867.7" rx="2.1" ry="2.5" fill="none" stroke="#282d82" stroke-width="1.1"/>
<ellipse cx="476.2" cy="967.7" rx="2.1" ry="2.5" fill="none" stroke="#282d82" stroke-width="1.1"/>
<ellipse cx="479.1" cy="912.8" rx="2.1" ry="2.5" fill="none" stroke="#282d82" stroke-width="1.1"/>
<ellipse cx="479.1" cy="923.2" rx="2.1" ry="2.5" fill="none" stroke="#282d82" stroke-width="1.1"/>
<ellipse cx="482.0" cy="916.7" rx="2.1" ry="2.5" fill="none" stroke="#282d82" stroke-width="1.1"/>
<ellipse cx="483.0" cy="921.8" rx="2.1" ry="2.5" fill="none" stroke="#282d82" stroke-width="1.1"/>
<ellipse cx="486.2" cy="800.8" rx="2.1" ry="2.5" fill="none" stroke="#282d82" stroke-width="1.1"/>
<ellipse cx="488.3" cy="952.1" rx="2.1" ry="2.5" fill="none" stroke="#282d82" stroke-width="1.1"/>
<ellipse cx="490.9" cy="875.4" rx="2.1" ry="2.5" fill="none" stroke="#282d82" stroke-width="1.1"/>
<ellipse cx="491.6" cy="917.1" rx="2.1" ry="2.5" fill="none" stroke="#282d82" stroke-width="1.1"/>
<ellipse cx="494.6" cy="917.7" rx="2.1" ry="2.5" fill="none" stroke="#282d82" stroke-width="1.1"/>
<ellipse cx="506.7" cy="909.1" rx="2.1" ry="2.5" fill="none" stroke="#282d82" stroke-width="1.1"/>
<ellipse cx="518.1" cy="907.1" rx="2.1" ry="2.5" fill="none" stroke="#282d82" stroke-width="1.1"/>
<ellipse cx="519.6" cy="904.0" rx="2.1" ry="2.5" fill="none" stroke="#282d82" stroke-width="1.1"/>
<ellipse cx="523.0" cy="878.5" rx="2.1" ry="2.5" fill="none" stroke="#282d82" stroke-width="1.1"/>
<ellipse cx="531.2" cy="898.9" rx="2.1" ry="2.5" fill="none" stroke="#282d82" stroke-width="1.1"/>
<ellipse cx="533.3" cy="901.0" rx="2.1" ry="2.5" fill="none" stroke="#282d82" stroke-width="1.1"/>
<ellipse cx="531.2" cy="922.4" rx="2.1" ry="2.5" fill="none" stroke="#282d82" stroke-width="1.1"/>
<ellipse cx="557.2" cy="928.5" rx="2.1" ry="2.5" fill="none" stroke="#282d82" stroke-width="1.1"/>
<ellipse cx="561.9" cy="884.6" rx="2.1" ry="2.5" fill="none" stroke="#282d82" stroke-width="1.1"/>
<ellipse cx="565.5" cy="928.5" rx="2.1" ry="2.5" fill="none" stroke="#282d82" stroke-width="1.1"/>
<ellipse cx="587.3" cy="909.5" rx="2.1" ry="2.5" fill="none" stroke="#282d82" stroke-width="1.1"/>
<ellipse cx="631.8" cy="909.5" rx="2.1" ry="2.5" fill="none" stroke="#282d82" stroke-width="1.1"/>
<g transform="translate(399.20 778.50) scale(0.88 1)">
<text x="0.00" y="0.00" font-size="12.5" font-family='"Liberation Sans", sans-serif' font-weight="bold" text-anchor="end" fill="#1f1f72" stroke="#1f1f72" stroke-width="0.35" >20</text>
</g>
<g transform="translate(399.20 813.98) scale(0.88 1)">
<text x="0.00" y="0.00" font-size="12.5" font-family='"Liberation Sans", sans-serif' font-weight="bold" text-anchor="end" fill="#1f1f72" stroke="#1f1f72" stroke-width="0.35" >15</text>
</g>
<g transform="translate(399.20 849.47) scale(0.88 1)">
<text x="0.00" y="0.00" font-size="12.5" font-family='"Liberation Sans", sans-serif' font-weight="bold" text-anchor="end" fill="#1f1f72" stroke="#1f1f72" stroke-width="0.35" >10</text>
</g>
<g transform="translate(399.20 884.95) scale(0.88 1)">
<text x="0.00" y="0.00" font-size="12.5" font-family='"Liberation Sans", sans-serif' font-weight="bold" text-anchor="end" fill="#1f1f72" stroke="#1f1f72" stroke-width="0.35" >5</text>
</g>
<g transform="translate(399.20 920.43) scale(0.88 1)">
<text x="0.00" y="0.00" font-size="12.5" font-family='"Liberation Sans", sans-serif' font-weight="bold" text-anchor="end" fill="#1f1f72" stroke="#1f1f72" stroke-width="0.35" >0</text>
</g>
<g transform="translate(399.20 955.92) scale(0.88 1)">
<text x="0.00" y="0.00" font-size="12.5" font-family='"Liberation Sans", sans-serif' font-weight="bold" text-anchor="end" fill="#1f1f72" stroke="#1f1f72" stroke-width="0.35" >-5</text>
</g>
<g transform="translate(399.20 991.40) scale(0.88 1)">
<text x="0.00" y="0.00" font-size="12.5" font-family='"Liberation Sans", sans-serif' font-weight="bold" text-anchor="end" fill="#1f1f72" stroke="#1f1f72" stroke-width="0.35" >-10</text>
</g>
<g transform="translate(408.80 1009.00) scale(0.9 1)">
<text x="0.00" y="0.00" font-size="12.2" font-family='"Liberation Sans", sans-serif' font-weight="bold" text-anchor="middle" fill="#1f1f72" stroke="#1f1f72" stroke-width="0.35" >0</text>
</g>
<g transform="translate(452.92 1009.00) scale(0.9 1)">
<text x="0.00" y="0.00" font-size="12.2" font-family='"Liberation Sans", sans-serif' font-weight="bold" text-anchor="middle" fill="#1f1f72" stroke="#1f1f72" stroke-width="0.35" >20</text>
</g>
<g transform="translate(497.03 1009.00) scale(0.9 1)">
<text x="0.00" y="0.00" font-size="12.2" font-family='"Liberation Sans", sans-serif' font-weight="bold" text-anchor="middle" fill="#1f1f72" stroke="#1f1f72" stroke-width="0.35" >40</text>
</g>
<g transform="translate(541.15 1009.00) scale(0.9 1)">
<text x="0.00" y="0.00" font-size="12.2" font-family='"Liberation Sans", sans-serif' font-weight="bold" text-anchor="middle" fill="#1f1f72" stroke="#1f1f72" stroke-width="0.35" >60</text>
</g>
<g transform="translate(585.27 1009.00) scale(0.9 1)">
<text x="0.00" y="0.00" font-size="12.2" font-family='"Liberation Sans", sans-serif' font-weight="bold" text-anchor="middle" fill="#1f1f72" stroke="#1f1f72" stroke-width="0.35" >80</text>
</g>
<g transform="translate(629.38 1009.00) scale(0.9 1)">
<text x="0.00" y="0.00" font-size="12.2" font-family='"Liberation Sans", sans-serif' font-weight="bold" text-anchor="middle" fill="#1f1f72" stroke="#1f1f72" stroke-width="0.35" >100</text>
</g>
<g transform="translate(673.50 1009.00) scale(0.9 1)">
<text x="0.00" y="0.00" font-size="12.2" font-family='"Liberation Sans", sans-serif' font-weight="bold" text-anchor="middle" fill="#1f1f72" stroke="#1f1f72" stroke-width="0.35" >120</text>
</g>
<g transform="translate(672.30 842.00) scale(0.88 1)">
<text x="0.00" y="0.00" font-size="12.5" font-family='"Liberation Sans", sans-serif' font-weight="bold" text-anchor="end" fill="#1f1f72" stroke="#1f1f72" stroke-width="0.35" >+1.96 SD</text>
</g>
<g transform="translate(672.30 861.20) scale(0.88 1)">
<text x="0.00" y="0.00" font-size="12.5" font-family='"Liberation Sans", sans-serif' font-weight="bold" text-anchor="end" fill="#1f1f72" stroke="#1f1f72" stroke-width="0.35" >9.8</text>
</g>
<g transform="translate(672.30 901.60) scale(0.88 1)">
<text x="0.00" y="0.00" font-size="12.5" font-family='"Liberation Sans", sans-serif' font-weight="bold" text-anchor="end" fill="#1f1f72" stroke="#1f1f72" stroke-width="0.35" >Mean</text>
</g>
<g transform="translate(672.30 920.60) scale(0.88 1)">
<text x="0.00" y="0.00" font-size="12.5" font-family='"Liberation Sans", sans-serif' font-weight="bold" text-anchor="end" fill="#1f1f72" stroke="#1f1f72" stroke-width="0.35" >1.4</text>
</g>
<g transform="translate(672.30 960.90) scale(0.88 1)">
<text x="0.00" y="0.00" font-size="12.5" font-family='"Liberation Sans", sans-serif' font-weight="bold" text-anchor="end" fill="#1f1f72" stroke="#1f1f72" stroke-width="0.35" >-1.96 SD</text>
</g>
<g transform="translate(672.30 979.40) scale(0.88 1)">
<text x="0.00" y="0.00" font-size="12.5" font-family='"Liberation Sans", sans-serif' font-weight="bold" text-anchor="end" fill="#1f1f72" stroke="#1f1f72" stroke-width="0.35" >-6.9</text>
</g>
<text x="423.30" y="761.00" font-size="11.5" font-family='"Liberation Sans", sans-serif' font-weight="bold" text-anchor="start" fill="#1f1f72" stroke="#1f1f72" stroke-width="0.35" textLength="235.20" lengthAdjust="spacingAndGlyphs" >Bland-Altman Graph: AreaH by MRI-DIXON-F</text>
<text x="464.30" y="1027.20" font-size="11" font-family='"Liberation Sans", sans-serif' font-weight="bold" text-anchor="start" fill="#1f1f72" stroke="#1f1f72" stroke-width="0.35" textLength="153.50" lengthAdjust="spacingAndGlyphs" >Average of Rater1 and Rater2</text>
<text x="368.30" y="958.30" font-size="11" font-family='"Liberation Sans", sans-serif' font-weight="bold" text-anchor="start" fill="#1f1f72" stroke="#1f1f72" stroke-width="0.35" textLength="156.00" lengthAdjust="spacingAndGlyphs" transform="rotate(-90 368.30 958.30)" >Difference: Rater1- Rater2</text>
<text x="353.70" y="749.00" font-size="40" font-family='"Liberation Serif", serif' font-weight="bold" text-anchor="start" fill="#000" stroke="#000" stroke-width="0.35" textLength="13.40" lengthAdjust="spacingAndGlyphs" >f</text>
</svg>
</body></html>
